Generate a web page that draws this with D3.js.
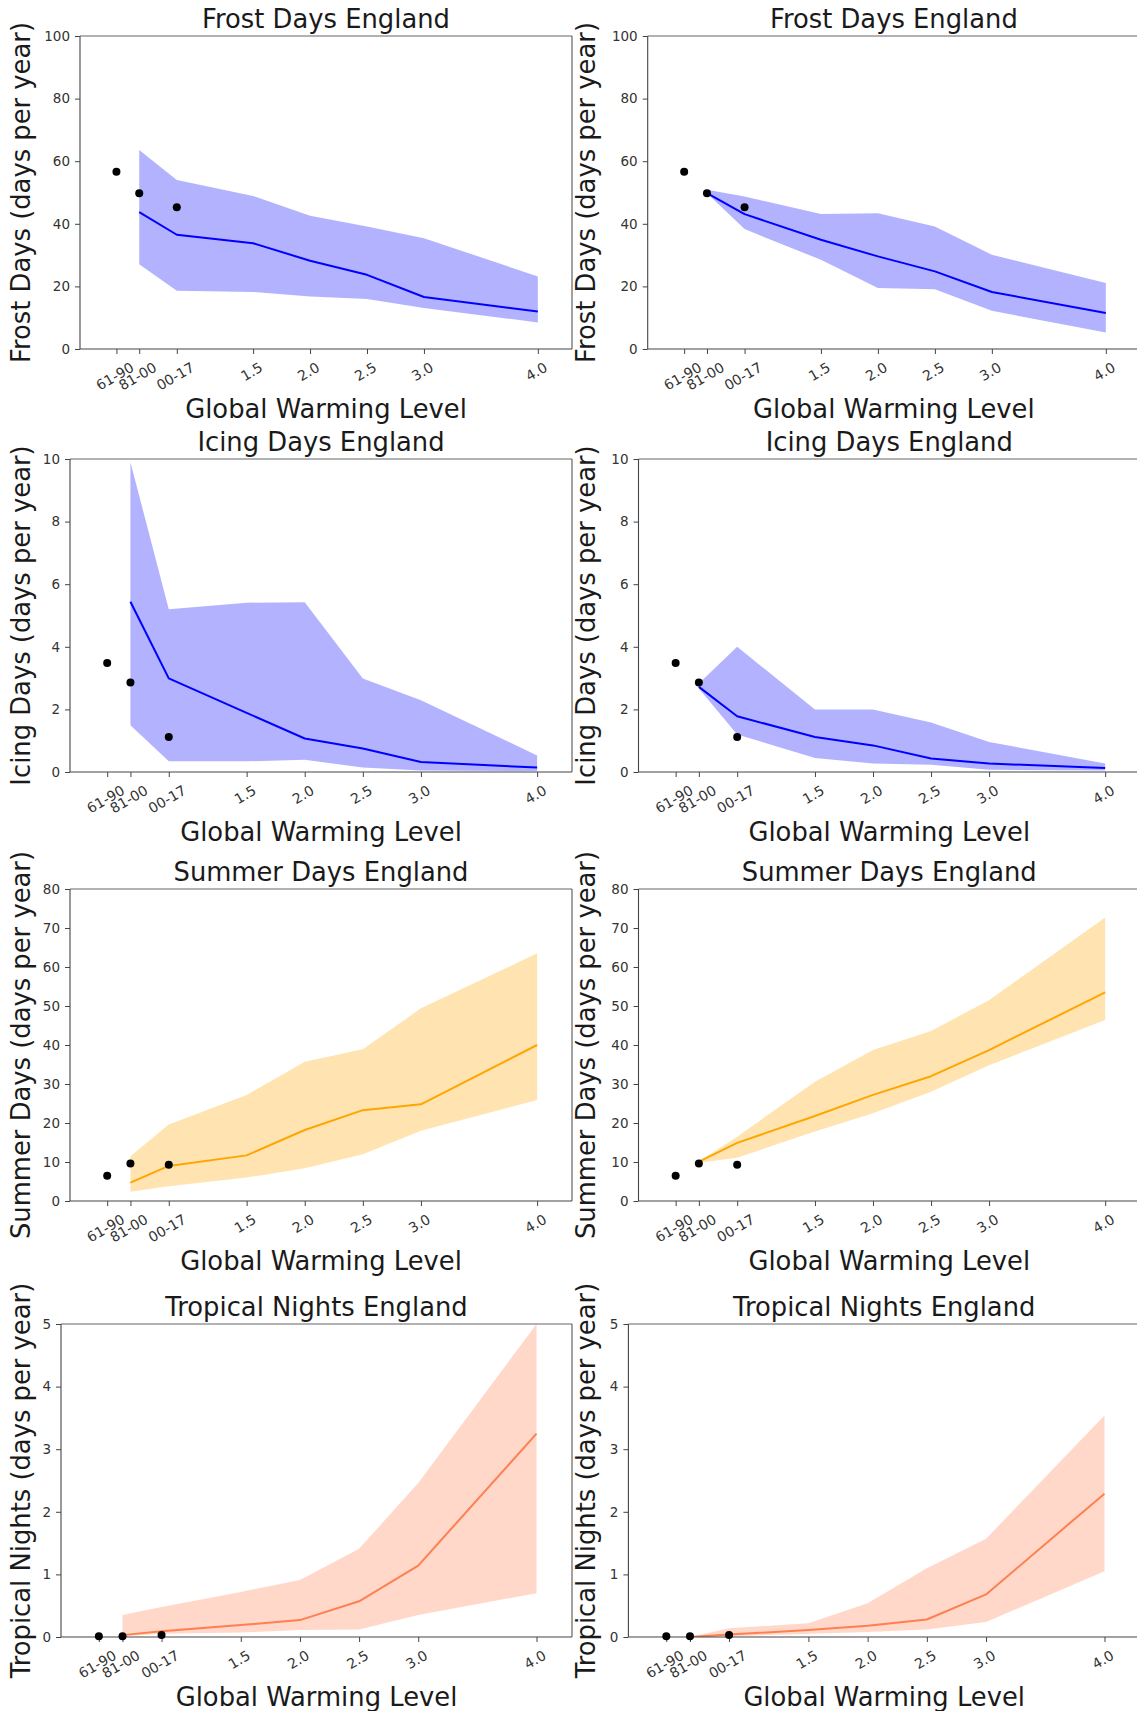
<!DOCTYPE html>
<html>
<head>
<meta charset="utf-8">
<script src="https://cdn.jsdelivr.net/npm/d3@7"></script>
<style>
  html, body { margin: 0; padding: 0; background: #fff; }
  svg { display: block; }
  text { font-family: "DejaVu Sans", sans-serif; }
</style>
</head>
<body>
<script>
// ---------------- DATA ----------------
const X_TICK_VALUES = [0.3, 0.5, 0.83, 1.5, 2.0, 2.5, 3.0, 4.0];
const X_TICK_LABELS = ["61-90", "81-00", "00-17", "1.5", "2.0", "2.5", "3.0", "4.0"];
const OBS_X = [0.3, 0.5, 0.83];
const MODEL_X = [0.5, 0.83, 1.5, 2.0, 2.5, 3.0, 4.0];

const TITLES = ["Frost Days England", "Icing Days England", "Summer Days England", "Tropical Nights England"];
const Y_LABELS = ["Frost Days (days per year)", "Icing Days (days per year)", "Summer Days (days per year)", "Tropical Nights (days per year)"];
const X_LABEL = "Global Warming Level";
const Y_MAX = [100, 10, 80, 5];
const Y_TICKS = [[0, 20, 40, 60, 80, 100], [0, 2, 4, 6, 8, 10], [0, 10, 20, 30, 40, 50, 60, 70, 80], [0, 1, 2, 3, 4, 5]];

// observations (black dots)
const frostObs = [56.6, 49.8, 45.3];
const icingObs = [3.48, 2.86, 1.12];
const summerObs = [6.5, 9.6, 9.3];
const tropicalObs = [0.01, 0.01, 0.03];

// left column
const frostMidL = [43.7, 36.5, 33.8, 28.2, 23.7, 16.6, 12.0];
const frostLoL  = [27.1, 18.6, 18.2, 16.8, 16.0, 13.1, 8.5];
const frostHiL  = [63.6, 54.0, 48.9, 42.6, 39.1, 35.4, 23.2];
const icingMidL = [5.44, 2.99, 1.89, 1.07, 0.75, 0.32, 0.14];
const icingLoL  = [1.49, 0.34, 0.34, 0.39, 0.14, 0.05, 0.03];
const icingHiL  = [9.9, 5.2, 5.41, 5.42, 2.99, 2.29, 0.53];
const summerMidL = [4.7, 9.0, 11.7, 18.2, 23.3, 24.8, 40.0];
const summerLoL  = [2.4, 3.8, 6.0, 8.4, 12.0, 18.0, 25.9];
const summerHiL  = [11.5, 19.6, 27.2, 35.7, 38.9, 49.4, 63.5];
const tropMidL = [0.03, 0.09, 0.19, 0.27, 0.57, 1.14, 3.25];
const tropLoL  = [0.01, 0.05, 0.07, 0.11, 0.12, 0.35, 0.70];
const tropHiL  = [0.35, 0.48, 0.72, 0.91, 1.41, 2.46, 5.0];

// right column
const frostMidR = [49.8, 43.1, 34.9, 29.6, 24.8, 18.2, 11.5];
const frostLoR  = [49.8, 38.3, 28.5, 19.5, 19.1, 12.2, 5.3];
const frostHiR  = [50.9, 48.7, 43.1, 43.4, 39.1, 30.1, 21.1];
const icingMidR = [2.72, 1.78, 1.12, 0.85, 0.43, 0.27, 0.13];
const icingLoR  = [2.67, 1.2, 0.45, 0.27, 0.23, 0.07, 0.05];
const icingHiR  = [2.83, 4.0, 2.0, 2.0, 1.58, 0.96, 0.27];
const summerMidR = [10.1, 14.9, 21.8, 27.2, 32.0, 38.7, 53.5];
const summerLoR  = [9.8, 11.1, 17.8, 22.5, 28.0, 34.8, 46.4];
const summerHiR  = [10.1, 16.5, 30.6, 38.7, 43.6, 51.5, 72.7];
const tropMidR = [0.0, 0.04, 0.11, 0.18, 0.28, 0.68, 2.29];
const tropLoR  = [0.0, 0.01, 0.05, 0.08, 0.12, 0.24, 1.05];
const tropHiR  = [0.0, 0.14, 0.22, 0.54, 1.10, 1.57, 3.54];

// ---------------- STYLE / LAYOUT ----------------
const W = 1137, H = 1711;
const LINE_COLORS = ["#0000ff", "#0000ff", "#ffa500", "#ff7f50"];
const ROW_TOP = [36, 459, 889, 1324];
const ROW_BOTTOM = [349, 772, 1201, 1637];
const COL_LEFT = [[80, 647.7], [70, 638.5], [70, 638.5], [61, 628.4]];
const COL_RIGHT = [572, 1140];
const YLABEL_X = [30, 595];
const X_DOMAIN = [-0.02, 4.3];
const BIG_FONT = 25.8, TICK_FONT = 14;

const panelData = [
  [{obs: frostObs, mid: frostMidL, lo: frostLoL, hi: frostHiL}, {obs: frostObs, mid: frostMidR, lo: frostLoR, hi: frostHiR}],
  [{obs: icingObs, mid: icingMidL, lo: icingLoL, hi: icingHiL}, {obs: icingObs, mid: icingMidR, lo: icingLoR, hi: icingHiR}],
  [{obs: summerObs, mid: summerMidL, lo: summerLoL, hi: summerHiL}, {obs: summerObs, mid: summerMidR, lo: summerLoR, hi: summerHiR}],
  [{obs: tropicalObs, mid: tropMidL, lo: tropLoL, hi: tropHiL}, {obs: tropicalObs, mid: tropMidR, lo: tropLoR, hi: tropHiR}]
];

const svg = d3.select("body").append("svg").attr("width", W).attr("height", H)
  .attr("viewBox", `0 0 ${W} ${H}`);
svg.append("rect").attr("width", W).attr("height", H).attr("fill", "#fff");
const defs = svg.append("defs");

panelData.forEach((row, r) => {
  row.forEach((d, c) => {
    const x0 = COL_LEFT[r][c], x1 = COL_RIGHT[c];
    const y0 = ROW_TOP[r], y1 = ROW_BOTTOM[r];
    const x = d3.scaleLinear().domain(X_DOMAIN).range([x0, x1]);
    const y = d3.scaleLinear().domain([0, Y_MAX[r]]).range([y1, y0]);
    const color = LINE_COLORS[r];
    const g = svg.append("g");

    const clipId = `clip-${r}-${c}`;
    defs.append("clipPath").attr("id", clipId)
      .append("rect").attr("x", x0).attr("y", y0).attr("width", x1 - x0).attr("height", y1 - y0);
    const plot = g.append("g").attr("clip-path", `url(#${clipId})`);

    const pts = MODEL_X.map((xv, i) => ({x: xv, mid: d.mid[i], lo: d.lo[i], hi: d.hi[i]}));
    plot.append("path").datum(pts)
      .attr("d", d3.area().x(p => x(p.x)).y0(p => y(p.lo)).y1(p => y(p.hi)))
      .attr("fill", color).attr("fill-opacity", 0.3).attr("stroke", "none");
    plot.append("path").datum(pts)
      .attr("d", d3.line().x(p => x(p.x)).y(p => y(p.mid)))
      .attr("fill", "none").attr("stroke", color).attr("stroke-width", 2)
      .attr("stroke-linejoin", "round");

    // axes
    const yAxis = d3.axisLeft(y).tickValues(Y_TICKS[r]).tickFormat(d3.format("d"))
      .tickSize(5).tickPadding(5);
    const ya = g.append("g").attr("transform", `translate(${x0},0)`).call(yAxis);
    ya.select(".domain").remove();
    ya.selectAll(".tick line").attr("stroke", "#444");
    ya.selectAll(".tick text").attr("font-size", TICK_FONT - 0.5).attr("fill", "#333")
      .attr("font-family", "DejaVu Sans");

    const xAxis = d3.axisBottom(x).tickValues(X_TICK_VALUES)
      .tickFormat((v, i) => X_TICK_LABELS[i]).tickSize(5).tickPadding(5);
    const xa = g.append("g").attr("transform", `translate(0,${y1})`).call(xAxis);
    xa.select(".domain").remove();
    xa.selectAll(".tick line").attr("stroke", "#444");
    const ang = 30 * Math.PI / 180;
    xa.selectAll(".tick text")
      .attr("font-size", TICK_FONT).attr("fill", "#333").attr("font-family", "DejaVu Sans")
      .attr("text-anchor", "middle").attr("y", 0).attr("dy", "0.35em")
      .each(function() {
        const w = this.getComputedTextLength();
        const h = TICK_FONT * 1.17;
        const bh = w * Math.sin(ang) + h * Math.cos(ang);
        const cy = 5 + 5 + bh / 2;
        d3.select(this).attr("transform", `translate(-2,${cy}) rotate(-30)`);
      });

    // spines
    g.append("line").attr("x1", x0).attr("x2", x1).attr("y1", y0).attr("y2", y0)
      .attr("stroke", "#999").attr("stroke-width", 1.4);
    g.append("line").attr("x1", x0).attr("x2", x1).attr("y1", y1).attr("y2", y1)
      .attr("stroke", "#444").attr("stroke-width", 1.1);
    g.append("line").attr("x1", x0).attr("x2", x0).attr("y1", y0).attr("y2", y1)
      .attr("stroke", "#444").attr("stroke-width", 1.1);
    g.append("line").attr("x1", x1).attr("x2", x1).attr("y1", y0).attr("y2", y1)
      .attr("stroke", "#555").attr("stroke-width", 1.1);

    // observations
    g.selectAll("circle.obs").data(OBS_X.map((xv, i) => ({x: xv, v: d.obs[i]})))
      .enter().append("circle").attr("class", "obs")
      .attr("cx", p => x(p.x)).attr("cy", p => y(p.v)).attr("r", 4).attr("fill", "#000");

    // texts
    const cx = (x0 + x1) / 2, cyMid = (y0 + y1) / 2;
    g.append("text").attr("x", cx).attr("y", y0 - 8).attr("text-anchor", "middle")
      .attr("font-size", BIG_FONT).attr("fill", "#1a1a1a").text(TITLES[r]);
    g.append("text").attr("x", cx).attr("y", y1 + 69).attr("text-anchor", "middle")
      .attr("font-size", BIG_FONT).attr("fill", "#1a1a1a").text(X_LABEL);
    g.append("text").attr("transform", `translate(${YLABEL_X[c]},${cyMid}) rotate(-90)`)
      .attr("text-anchor", "middle").attr("font-size", BIG_FONT).attr("fill", "#1a1a1a")
      .text(Y_LABELS[r]);
  });
});
</script>
</body>
</html>
